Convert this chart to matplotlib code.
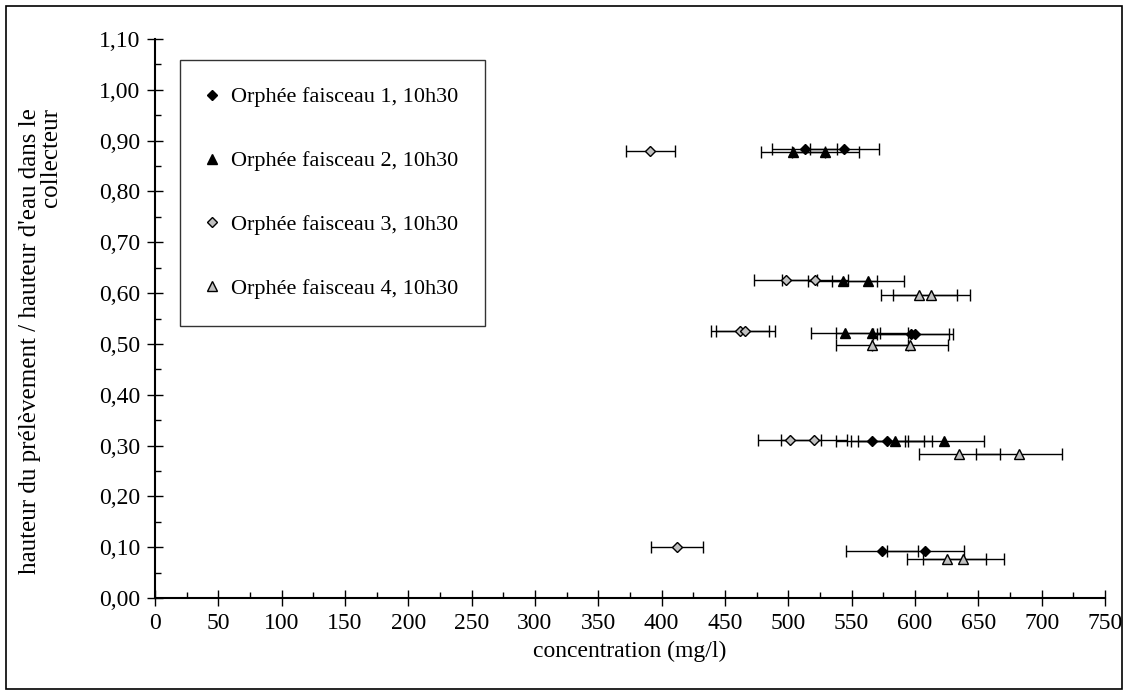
import matplotlib
matplotlib.use("Agg")
import matplotlib.pyplot as plt
import numpy as np
from matplotlib.ticker import MultipleLocator, FuncFormatter
from matplotlib.patches import Rectangle

plt.rcParams['font.family'] = ['Liberation Serif', 'DejaVu Serif']

# concentration (mg/l) and relative sampling height for each beam
s1_x = [513, 544, 597, 600, 566, 578, 574, 608]
s1_y = [0.883, 0.883, 0.519, 0.519, 0.309, 0.309, 0.093, 0.093]

s2_x = [504, 529, 543, 563, 545, 566, 584, 623]
s2_y = [0.878, 0.878, 0.624, 0.624, 0.522, 0.522, 0.308, 0.308]

s3_x = [391, 498, 521, 462, 466, 501, 520, 412]
s3_y = [0.880, 0.625, 0.625, 0.526, 0.526, 0.311, 0.311, 0.101]

s4_x = [603, 613, 566, 596, 635, 682, 625, 638]
s4_y = [0.596, 0.596, 0.497, 0.497, 0.283, 0.283, 0.077, 0.077]

labels = ['Orphée faisceau 1, 10h30', 'Orphée faisceau 2, 10h30',
          'Orphée faisceau 3, 10h30', 'Orphée faisceau 4, 10h30']
err_pct = 0.05  # percentage error bars

FS = 17

fig = plt.figure(figsize=(11.28, 6.95), dpi=100)
ax = fig.add_axes([155/1128, 1-598/695, 950/1128, 559/695])

# outer chart frame
fig.patches.append(Rectangle((6/1128, 6/695), 1116/1128, 683/695, transform=fig.transFigure,
                             fill=False, edgecolor='black', linewidth=1.2))

styles = [('D', 'black', 5.5), ('^', 'black', 7), ('D', '#c0c0c0', 5.5), ('^', '#c0c0c0', 7)]
series = [(s1_x, s1_y), (s2_x, s2_y), (s3_x, s3_y), (s4_x, s4_y)]
for (xs, ys), (mk, col, ms), lab in zip(series, styles, labels):
    xs = np.array(xs, dtype=float)
    ax.errorbar(xs, ys, xerr=err_pct * xs, fmt=mk, color='black', mfc=col, mec='black',
                mew=1.0, ms=ms, ecolor='black', elinewidth=1.0, capsize=4, capthick=1.0,
                label=lab)

ax.set_xlim(0, 750)
ax.set_ylim(0, 1.10)
ax.xaxis.set_major_locator(MultipleLocator(50))
ax.xaxis.set_minor_locator(MultipleLocator(25))
ax.yaxis.set_major_locator(MultipleLocator(0.1))
ax.yaxis.set_minor_locator(MultipleLocator(0.05))
ax.yaxis.set_major_formatter(FuncFormatter(lambda v, p: f'{v:.2f}'.replace('.', ',')))

for s in ['top', 'right']:
    ax.spines[s].set_visible(False)
for s in ['left', 'bottom']:
    ax.spines[s].set_linewidth(1.5)

ax.tick_params(which='major', direction='inout', length=11, width=1, labelsize=FS, pad=5)
ax.tick_params(which='minor', direction='in', length=4, width=1)

ax.set_xlabel('concentration (mg/l)', fontsize=FS, labelpad=5)
ax.set_ylabel("hauteur du prélèvement / hauteur d'eau dans le\ncollecteur", fontsize=18,
              multialignment='right', linespacing=0.95)
ax.yaxis.set_label_coords(-0.098, 0.46)

handles, labs = ax.get_legend_handles_labels()
handles = [h[0] for h in handles]
leg = ax.legend(handles, labs, loc='upper left', bbox_to_anchor=(0.026, 0.962), fontsize=16,
                frameon=True, fancybox=False, labelspacing=1.95, handlelength=0.5,
                handletextpad=0.6, borderpad=1.2, borderaxespad=0)
leg.get_frame().set_edgecolor('black')
leg.get_frame().set_linewidth(1.0)

fig.savefig('out.png', dpi=100)
